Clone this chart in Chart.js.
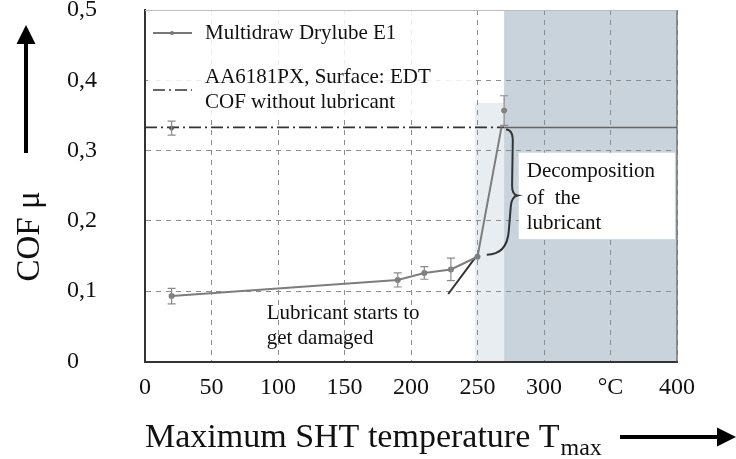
<!DOCTYPE html>
<html>
<head>
<meta charset="utf-8">
<script src="https://cdn.jsdelivr.net/npm/chart.js@4.4.1/dist/chart.umd.min.js"></script>
<style>
  html, body { margin: 0; padding: 0; background: #fff; }
</style>
</head>
<body>
<canvas id="cof-chart" width="736" height="459"></canvas>
<script>
// Multidraw Drylube E1 measurements
const drylubeTemp = [20, 190, 210, 230, 250, 268];
const drylubeCof = [0.093, 0.116, 0.126, 0.131, 0.149, 0.333];
const drylubeErr = [0.011, 0.010, 0.009, 0.016, 0, 0];
const peakTemp = [270];
const peakCof = [0.357];
const peakErr = [0.021];

// AA6181PX, EDT surface, no lubricant
const dryTemp = [20];
const dryCof = [0.332];
const dryErr = [0.010];
const dryLevelTemp = [0, 270];
const dryLevelCof = [0.333, 0.333];
const dryLevelRightTemp = [270, 400];
const dryLevelRightCof = [0.333, 0.333];

// tangent "lubricant starts to get damaged"
const tangentTemp = [228, 250];
const tangentCof = [0.096, 0.152];

// brace next to the steep rise
const braceTemp = [271.4, 277, 276.5, 276, 276, 280, 275.5, 275, 273.5, 272, 257];
const braceCof = [0.330, 0.330, 0.310, 0.250, 0.237, 0.236, 0.234, 0.220, 0.185, 0.152, 0.152];

// shaded temperature zones
const lightZone = { x: [248, 270], y: [0, 0.368] };
const darkZone = { x: [270, 400], y: [0, 0.5] };

const xTickLabels = ['0', '50', '100', '150', '200', '250', '300', '°C', '400'];
const yTickLabels = ['0', '0,1', '0,2', '0,3', '0,4', '0,5'];

const serif = "'Liberation Serif', 'Times New Roman', serif";

function points(xs, ys) {
    return xs.map((x, i) => ({ x: x, y: ys[i] }));
}

const zonesPlugin = {
    id: 'zones',
    beforeDraw(chart) {
        const { ctx, scales: { x, y } } = chart;
        ctx.save();
        ctx.fillStyle = '#e8edf1';
        ctx.fillRect(x.getPixelForValue(lightZone.x[0]), y.getPixelForValue(lightZone.y[1]),
            x.getPixelForValue(lightZone.x[1]) - x.getPixelForValue(lightZone.x[0]),
            y.getPixelForValue(lightZone.y[0]) - y.getPixelForValue(lightZone.y[1]));
        ctx.fillStyle = '#c9d3dc';
        ctx.fillRect(x.getPixelForValue(darkZone.x[0]), y.getPixelForValue(darkZone.y[1]),
            x.getPixelForValue(darkZone.x[1]) - x.getPixelForValue(darkZone.x[0]),
            y.getPixelForValue(darkZone.y[0]) - y.getPixelForValue(darkZone.y[1]));
        ctx.restore();
    },
    beforeDatasetsDraw(chart) {
        const { ctx, chartArea: a, scales: { x, y } } = chart;
        ctx.save();
        // legend box over the grid
        ctx.fillStyle = 'rgba(255,255,255,0.85)';
        ctx.fillRect(a.left + 3, a.top + 1, x.getPixelForValue(247) - a.left - 3, y.getPixelForValue(0.346) - a.top - 1);
        // box behind "Decomposition of the lubricant"
        ctx.fillStyle = '#ffffff';
        ctx.fillRect(x.getPixelForValue(281), y.getPixelForValue(0.297),
            x.getPixelForValue(398.5) - x.getPixelForValue(281), y.getPixelForValue(0.174) - y.getPixelForValue(0.297));
        // right and top frame
        ctx.strokeStyle = '#777';
        ctx.lineWidth = 1.5;
        ctx.beginPath();
        ctx.moveTo(a.right, a.top);
        ctx.lineTo(a.right, a.bottom);
        ctx.stroke();
        ctx.strokeStyle = '#bbb';
        ctx.lineWidth = 1;
        ctx.beginPath();
        ctx.moveTo(a.left, a.top + 0.5);
        ctx.lineTo(a.right, a.top + 0.5);
        ctx.stroke();
        ctx.restore();
    }
};

const errorBarPlugin = {
    id: 'errorBars',
    afterDatasetsDraw(chart) {
        const { ctx, scales: { x, y } } = chart;
        chart.data.datasets.forEach(ds => {
            if (!ds.errors) return;
            ctx.save();
            ctx.strokeStyle = '#8a8a8a';
            ctx.lineWidth = 1.2;
            ds.data.forEach((p, j) => {
                const e = ds.errors[j];
                if (!e) return;
                const px = x.getPixelForValue(p.x);
                const y1 = y.getPixelForValue(p.y - e);
                const y2 = y.getPixelForValue(p.y + e);
                ctx.beginPath();
                ctx.moveTo(px, y1); ctx.lineTo(px, y2);
                ctx.moveTo(px - 4, y1); ctx.lineTo(px + 4, y1);
                ctx.moveTo(px - 4, y2); ctx.lineTo(px + 4, y2);
                ctx.stroke();
            });
            ctx.restore();
        });
    }
};

const annotationPlugin = {
    id: 'annotations',
    afterDraw(chart) {
        const { ctx, chartArea: a, scales: { x, y } } = chart;
        const X = v => x.getPixelForValue(v);
        const Y = v => y.getPixelForValue(v);
        ctx.save();

        // brace
        ctx.strokeStyle = '#333';
        ctx.lineWidth = 2;
        ctx.beginPath();
        ctx.moveTo(X(braceTemp[0]), Y(braceCof[0]));
        ctx.quadraticCurveTo(X(braceTemp[1]), Y(braceCof[1]), X(braceTemp[2]), Y(braceCof[2]));
        ctx.lineTo(X(braceTemp[3]), Y(braceCof[3]));
        ctx.quadraticCurveTo(X(braceTemp[4]), Y(braceCof[4]), X(braceTemp[5]), Y(braceCof[5]));
        ctx.quadraticCurveTo(X(braceTemp[6]), Y(braceCof[6]), X(braceTemp[7]), Y(braceCof[7]));
        ctx.lineTo(X(braceTemp[8]), Y(braceCof[8]));
        ctx.quadraticCurveTo(X(braceTemp[9]), Y(braceCof[9]), X(braceTemp[10]), Y(braceCof[10]));
        ctx.stroke();

        // legend
        ctx.fillStyle = '#111';
        ctx.font = '21px ' + serif;
        ctx.textBaseline = 'middle';
        ctx.textAlign = 'left';
        ctx.fillText('Multidraw Drylube E1', a.left + 60, 33);
        ctx.fillText('AA6181PX, Surface: EDT', a.left + 60, 77);
        ctx.fillText('COF without lubricant', a.left + 60, 102);
        ctx.strokeStyle = '#777';
        ctx.lineWidth = 2;
        ctx.beginPath();
        ctx.moveTo(a.left + 8, 33);
        ctx.lineTo(a.left + 47, 33);
        ctx.stroke();
        ctx.fillStyle = '#777';
        ctx.beginPath();
        ctx.arc(a.left + 27, 33, 2, 0, Math.PI * 2);
        ctx.fill();
        ctx.strokeStyle = '#333';
        ctx.lineWidth = 1.5;
        ctx.setLineDash([12, 4, 2, 4]);
        ctx.beginPath();
        ctx.moveTo(a.left + 8, 90);
        ctx.lineTo(a.left + 47, 90);
        ctx.stroke();
        ctx.setLineDash([]);

        // annotation texts
        ctx.fillStyle = '#111';
        ctx.fillText('Decomposition', X(287), Y(0.270));
        ctx.fillText('of  the', X(287), Y(0.232));
        ctx.fillText('lubricant', X(287), Y(0.197));
        ctx.fillText('Lubricant starts to', X(91.5), Y(0.069));
        ctx.fillText('get damaged', X(91.5), Y(0.033));

        // axis titles
        ctx.font = '34px ' + serif;
        ctx.textBaseline = 'alphabetic';
        ctx.fillText('Maximum SHT temperature T', a.left, 447);
        const w = ctx.measureText('Maximum SHT temperature T').width;
        ctx.font = '24px ' + serif;
        ctx.fillText('max', a.left + w + 1, 455);

        ctx.save();
        ctx.translate(39, 236.5);
        ctx.rotate(-Math.PI / 2);
        ctx.font = '33px ' + serif;
        ctx.textAlign = 'center';
        ctx.fillText('COF μ', 0, 0);
        ctx.restore();

        // arrows
        ctx.fillStyle = '#000';
        ctx.fillRect(24, 40, 4, 113);
        ctx.beginPath();
        ctx.moveTo(26, 25); ctx.lineTo(16.5, 44); ctx.lineTo(35.5, 44); ctx.closePath();
        ctx.fill();
        ctx.fillRect(620, 435, 100, 4);
        ctx.beginPath();
        ctx.moveTo(736, 437); ctx.lineTo(717, 427.5); ctx.lineTo(717, 446.5); ctx.closePath();
        ctx.fill();

        ctx.restore();
    }
};

const ctx = document.getElementById('cof-chart').getContext('2d');
new Chart(ctx, {
    type: 'line',
    data: {
        datasets: [
            {
                label: 'Multidraw Drylube E1',
                data: points(drylubeTemp, drylubeCof),
                errors: drylubeErr,
                borderColor: '#7d7d7d',
                backgroundColor: '#7d7d7d',
                borderWidth: 2,
                pointRadius: [2, 2, 2, 2, 2, 0],
                tension: 0
            },
            {
                label: 'peak',
                data: points(peakTemp, peakCof),
                errors: peakErr,
                showLine: false,
                backgroundColor: '#7d7d7d',
                borderColor: '#7d7d7d',
                pointRadius: 2.5
            },
            {
                label: 'AA6181PX dry',
                data: points(dryTemp, dryCof),
                errors: dryErr,
                showLine: false,
                backgroundColor: '#555',
                borderColor: '#555',
                pointRadius: 2
            },
            {
                label: 'dry level',
                data: points(dryLevelTemp, dryLevelCof),
                borderColor: '#333',
                borderWidth: 1.6,
                borderDash: [12, 4, 2, 4],
                pointRadius: 0
            },
            {
                label: 'dry level right',
                data: points(dryLevelRightTemp, dryLevelRightCof),
                borderColor: '#666',
                borderWidth: 1.5,
                pointRadius: 0
            },
            {
                label: 'tangent',
                data: points(tangentTemp, tangentCof),
                borderColor: '#333',
                borderWidth: 2,
                pointRadius: 0
            }
        ]
    },
    options: {
        responsive: false,
        animation: false,
        events: [],
        layout: { padding: { left: 67, right: 59, top: 10, bottom: 57.5 } },
        plugins: {
            legend: { display: false },
            tooltip: { enabled: false }
        },
        scales: {
            x: {
                type: 'linear',
                min: 0,
                max: 400,
                afterFit(scale) {
                    scale.height = 40;
                    scale.paddingLeft = 0;
                    scale.paddingRight = 0;
                },
                ticks: {
                    stepSize: 50,
                    autoSkip: false,
                    maxRotation: 0,
                    padding: 12,
                    color: '#111',
                    font: { family: serif, size: 24 },
                    callback: (v, i) => xTickLabels[i]
                },
                grid: { color: '#8c8c8c', lineWidth: 1, drawTicks: false },
                border: { display: true, color: '#333', width: 2, dash: [5, 5] }
            },
            y: {
                min: 0,
                max: 0.5,
                afterFit(scale) {
                    scale.width = 78;
                    scale.paddingTop = 0;
                    scale.paddingBottom = 0;
                },
                ticks: {
                    stepSize: 0.1,
                    crossAlign: 'far',
                    color: '#111',
                    font: { family: serif, size: 24 },
                    callback: (v, i) => yTickLabels[i]
                },
                grid: { color: '#8c8c8c', lineWidth: 1, drawTicks: false },
                border: { display: true, color: '#333', width: 2, dash: [5, 5] }
            }
        }
    },
    plugins: [zonesPlugin, errorBarPlugin, annotationPlugin]
});
</script>
</body>
</html>
